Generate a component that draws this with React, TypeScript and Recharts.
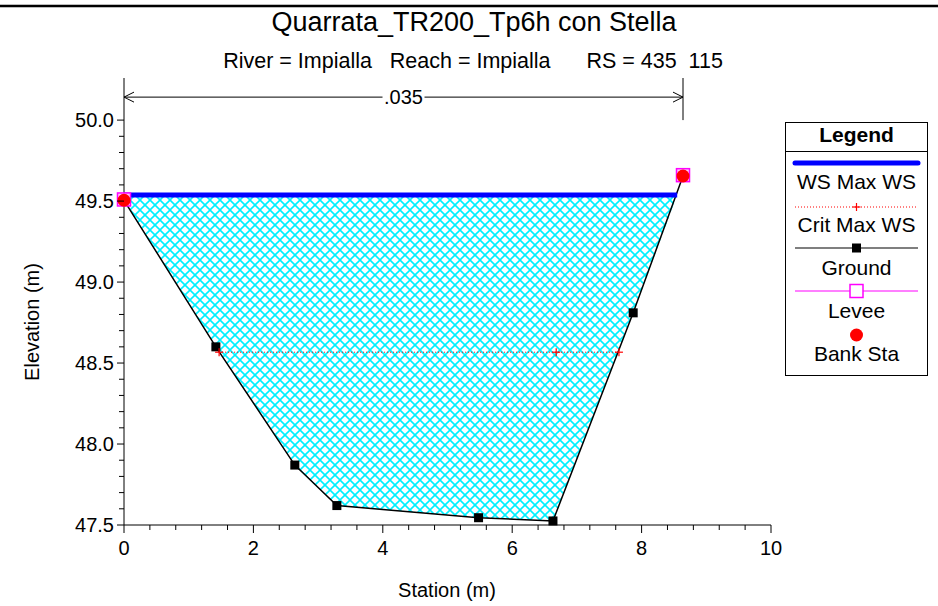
import React from 'react'
import { ComposedChart, Line, Area, XAxis, YAxis, ReferenceLine, Label } from 'recharts'

const FONT = '"Liberation Sans", Arial, Helvetica, sans-serif'

// cross section
const groundStation = [0, 1.42, 2.64, 3.29, 5.48, 6.63, 7.87, 8.64]
const groundElev = [49.505, 48.6, 47.87, 47.62, 47.545, 47.525, 48.81, 49.655]
const wsStation = [0, 8.55]
const wsElev = 49.537
const critStation = [1.47, 6.68, 7.65]
const critElev = 48.567
const leveeStation = [0, 8.64]
const leveeElev = [49.51, 49.66]
const bankStation = [0, 8.64]
const bankElev = [49.505, 49.655]
const nStation = [0, 8.64]
const nLabel = '.035'

const xTicks = [0, 0.4, 0.8, 1.2, 1.6, 2, 2.4, 2.8, 3.2, 3.6, 4, 4.4, 4.8, 5.2, 5.6, 6, 6.4, 6.8, 7.2, 7.6, 8, 8.4, 8.8, 9.2, 9.6, 10]
const yTicks = [47.5, 47.6, 47.7, 47.8, 47.9, 48, 48.1, 48.2, 48.3, 48.4, 48.5, 48.6, 48.7, 48.8, 48.9, 49, 49.1, 49.2, 49.3, 49.4, 49.5, 49.6, 49.7, 49.8, 49.9, 50]

const Y_TOP = 50.26
const N_ARROW_Y = 50.142

const groundData = groundStation.map((x, i) => ({ x, y: groundElev[i] }))
const wsData = wsStation.map(x => ({ x, y: wsElev }))
const critData = critStation.map(x => ({ x, y: critElev }))
const leveeData = leveeStation.map((x, i) => ({ x, y: leveeElev[i] }))
const bankData = bankStation.map((x, i) => ({ x, y: bankElev[i] }))
const wetData = [
  ...groundData.filter(p => p.x < wsStation[1]).map(p => ({ x: p.x, range: [p.y, wsElev] })),
  { x: wsStation[1], range: [wsElev, wsElev] },
]

const XTick = ({ x, y, payload }: any) => {
  const v = payload.value
  const major = Math.abs(v / 2 - Math.round(v / 2)) < 1e-6
  return (
    <g>
      <line x1={x} x2={x} y1={y} y2={y + (major ? 8 : 5)} stroke="#000" />
      {major && (
        <text x={x} y={y + 30} textAnchor="middle" fontSize={20} fontFamily={FONT} fill="#000">{v}</text>
      )}
    </g>
  )
}

const YTick = ({ x, y, payload }: any) => {
  const v = payload.value
  const major = Math.abs(v * 2 - Math.round(v * 2)) < 1e-6
  return (
    <g>
      <line x1={x - (major ? 7 : 5)} x2={x} y1={y} y2={y} stroke="#000" />
      {major && (
        <text x={x - 10} y={y + 7} textAnchor="end" fontSize={20} fontFamily={FONT} fill="#000">{v.toFixed(1)}</text>
      )}
    </g>
  )
}

const GroundDot = (p: any) => {
  if (p.index === 0 || p.index === groundData.length - 1) return <g key={p.index} />
  return <rect key={p.index} x={p.cx - 4.5} y={p.cy - 4.5} width={9} height={9} fill="#000" />
}

const CritDot = (p: any) => (
  <g key={p.index} stroke="#ff0000" strokeWidth={1.2}>
    <line x1={p.cx - 4} x2={p.cx + 4} y1={p.cy} y2={p.cy} />
    <line x1={p.cx} x2={p.cx} y1={p.cy - 4} y2={p.cy + 4} />
  </g>
)

const LeveeDot = (p: any) => (
  <rect key={p.index} x={p.cx - 6.5} y={p.cy - 6.5} width={13} height={13} fill="#ffc8ff" stroke="#ff00ff" strokeWidth={1.5} />
)

const BankDot = (p: any) => <circle key={p.index} cx={p.cx} cy={p.cy} r={6.5} fill="#ff0000" />

const NArrow = (p: any) => {
  const { x1, x2, y1 } = p
  const mid = (x1 + x2) / 2
  return (
    <g>
      <line x1={x1} x2={x2} y1={y1} y2={y1} stroke="#000" />
      <polyline points={`${x1 + 10},${y1 - 5} ${x1},${y1} ${x1 + 10},${y1 + 5}`} fill="none" stroke="#000" />
      <polyline points={`${x2 - 10},${y1 - 5} ${x2},${y1} ${x2 - 10},${y1 + 5}`} fill="none" stroke="#000" />
      <rect x={mid - 21} y={y1 - 12} width={42} height={24} fill="#fff" />
      <text x={mid} y={y1 + 7} textAnchor="middle" fontSize={20} fontFamily={FONT} fill="#000">{nLabel}</text>
    </g>
  )
}

function LegendBox() {
  const cx = 71.5
  const txt = (y: number, s: string, bold = false) => (
    <text x={cx} y={y} textAnchor="middle" fontSize={21} fontWeight={bold ? 'bold' : 'normal'} fontFamily={FONT} fill="#000">{s}</text>
  )
  return (
    <svg width={143} height={254} style={{ position: 'absolute', left: 785, top: 122, overflow: 'visible' }}>
      <rect x={0.5} y={0.5} width={142} height={253} fill="#fff" stroke="#000" />
      {txt(20, 'Legend', true)}
      <line x1={0} x2={143} y1={29.5} y2={29.5} stroke="#000" />
      <line x1={10} x2={133} y1={41} y2={41} stroke="#0000ff" strokeWidth={5} strokeLinecap="round" />
      {txt(67, 'WS Max WS')}
      <line x1={10} x2={133} y1={85} y2={85} stroke="#ff0000" strokeDasharray="1 2" />
      <line x1={cx - 4} x2={cx + 4} y1={85} y2={85} stroke="#ff0000" strokeWidth={1.2} />
      <line x1={cx} x2={cx} y1={81} y2={89} stroke="#ff0000" strokeWidth={1.2} />
      {txt(110, 'Crit Max WS')}
      <line x1={10} x2={133} y1={126} y2={126} stroke="#000" strokeWidth={1.2} />
      <rect x={cx - 4.5} y={121.5} width={9} height={9} fill="#000" />
      {txt(153, 'Ground')}
      <line x1={10} x2={133} y1={169} y2={169} stroke="#ff00ff" strokeWidth={1.2} />
      <rect x={cx - 6.5} y={162.5} width={13} height={13} fill="#fff" stroke="#ff00ff" strokeWidth={1.5} />
      {txt(196, 'Levee')}
      <circle cx={cx} cy={213} r={6.5} fill="#ff0000" />
      {txt(239, 'Bank Sta')}
    </svg>
  )
}

export default function App() {
  return (
    <div style={{ position: 'absolute', left: 0, top: 0, width: 938, height: 606, background: '#fff', fontFamily: FONT }}>
      <svg width={938} height={90} style={{ position: 'absolute', left: 0, top: 0 }}>
        <rect x={0} y={4} width={938} height={4} fill="#bbb" />
        <rect x={0} y={5} width={938} height={2} fill="#000" />
        <text x={474} y={31} textAnchor="middle" fontSize={27} fontFamily={FONT} fill="#000">Quarrata_TR200_Tp6h con Stella</text>
        <text x={473} y={68} textAnchor="middle" fontSize={21.5} fontFamily={FONT} fill="#000" style={{ whiteSpace: 'pre' }}>
          {'River = Impialla   Reach = Impialla      RS = 435  115'}
        </text>
      </svg>
      <div style={{ position: 'absolute', left: 0, top: 0 }}>
        <ComposedChart width={938} height={606} margin={{ top: 78, right: 167, bottom: 0, left: 0 }}>
          <defs>
            <pattern id="hatch" width={10} height={10} patternUnits="userSpaceOnUse">
              <line x1={-1} y1={-1} x2={11} y2={11} stroke="#00f0ff" strokeWidth={1.6} />
              <line x1={-1} y1={11} x2={11} y2={-1} stroke="#00f0ff" strokeWidth={1.6} />
            </pattern>
          </defs>
          <XAxis
            dataKey="x" type="number" domain={[0, 10]} ticks={xTicks} interval={0}
            height={81} stroke="#000" tickLine={false} tickSize={0} tickMargin={0} tick={<XTick />}
          >
            <Label content={() => (
              <text x={447} y={597} textAnchor="middle" fontSize={20} fontFamily={FONT} fill="#000">Station (m)</text>
            )} />
          </XAxis>
          <YAxis
            type="number" domain={[47.5, Y_TOP]} ticks={yTicks} interval={0}
            width={124} stroke="#000" tickLine={false} tickSize={0} tickMargin={0} tick={<YTick />}
          >
            <Label content={() => (
              <text x={39} y={322} transform="rotate(-90 39 322)" textAnchor="middle" fontSize={20} fontFamily={FONT} fill="#000">Elevation (m)</text>
            )} />
          </YAxis>
          <Area data={wetData} dataKey="range" type="linear" fill="url(#hatch)" fillOpacity={1} stroke="none" isAnimationActive={false} />
          <Line data={groundData} dataKey="y" type="linear" stroke="#000" strokeWidth={1.5} dot={GroundDot} activeDot={false} isAnimationActive={false} />
          <Line data={critData} dataKey="y" type="linear" stroke="#ff0000" strokeWidth={1} strokeDasharray="1 2" dot={CritDot} activeDot={false} isAnimationActive={false} />
          <Line data={wsData} dataKey="y" type="linear" stroke="#0000ff" strokeWidth={5} dot={false} activeDot={false} isAnimationActive={false} />
          <Line data={leveeData} dataKey="y" stroke="none" dot={LeveeDot} activeDot={false} isAnimationActive={false} />
          <Line data={bankData} dataKey="y" stroke="none" dot={BankDot} activeDot={false} isAnimationActive={false} />
          <ReferenceLine segment={[{ x: nStation[1], y: 50 }, { x: nStation[1], y: Y_TOP }]} stroke="#000" ifOverflow="visible" />
          <ReferenceLine segment={[{ x: nStation[0], y: N_ARROW_Y }, { x: nStation[1], y: N_ARROW_Y }]} ifOverflow="visible" shape={NArrow} />
        </ComposedChart>
      </div>
      <LegendBox />
    </div>
  )
}
